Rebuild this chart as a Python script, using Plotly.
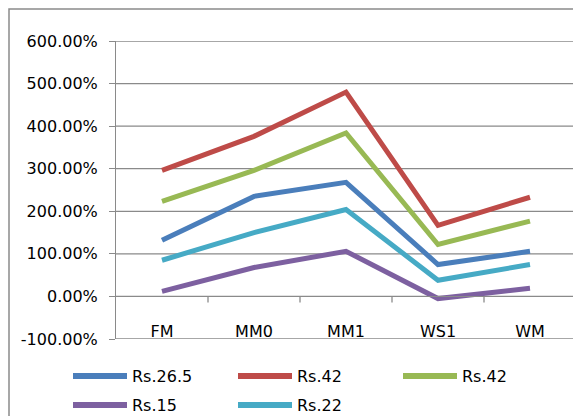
import plotly.graph_objects as go

# Category axis and series (values in percent)
categories = ["FM", "MM0", "MM1", "WS1", "WM"]
series_names = ["Rs.26.5", "Rs.42", "Rs.42", "Rs.15", "Rs.22"]
rs_26_5 = [132, 235, 268, 75, 106]
rs_42_a = [296, 376, 480, 167, 233]
rs_42_b = [223, 296, 384, 122, 177]
rs_15 = [12, 68, 106, -5, 19]
rs_22 = [85, 150, 204, 38, 75]
series_values = [rs_26_5, rs_42_a, rs_42_b, rs_15, rs_22]
colors = ["#4A7EBB", "#BE4B48", "#98B954", "#7D60A0", "#46AAC5"]
y_ticks = [-100, 0, 100, 200, 300, 400, 500, 600]
y_ticktext = [f"{v:.2f}%" for v in y_ticks]

W, H = 573, 416
L, T, R, B = 116, 41, 0, 77
plot_w = W - L - R
plot_h = H - T - B
GRID = "#8a8a8a"
FONT = "DejaVu Sans"


def px(x):
    return (x - L) / plot_w


def py(y):
    return (H - B - y) / plot_h


fig = go.Figure()
for name, vals, col in zip(series_names, series_values, colors):
    fig.add_trace(go.Scatter(
        x=categories, y=vals, name=name, mode="lines",
        line=dict(color=col, width=5), showlegend=False,
    ))

ymin, ymax = -100, 600
zero_pos = (0 - ymin) / (ymax - ymin)
cat_px = 92  # width of one category slot in pixels

fig.update_layout(
    width=W, height=H,
    margin=dict(l=L, r=R, t=T, b=B),
    paper_bgcolor="white", plot_bgcolor="white",
    font=dict(family=FONT, size=16, color="#000000"),
    xaxis=dict(
        type="category", range=[-0.5, plot_w / cat_px - 0.5],
        anchor="free", position=zero_pos,
        showline=True, linecolor=GRID, linewidth=1,
        ticks="", showgrid=False, ticklabelstandoff=20,
        tickfont=dict(family=FONT, size=16),
    ),
    yaxis=dict(
        range=[ymin, ymax], tickmode="array",
        tickvals=y_ticks, ticktext=y_ticktext,
        showline=True, linecolor=GRID, linewidth=1,
        ticks="outside", ticklen=6, tickcolor=GRID,
        showgrid=False, zeroline=False, ticklabelstandoff=8,
        tickfont=dict(family=FONT, size=16),
    ),
)

shapes = []
# horizontal gridlines at every y tick
for v in y_ticks:
    shapes.append(dict(type="line", xref="paper", yref="y", x0=0, x1=1, y0=v, y1=v,
                       line=dict(color=GRID, width=1.3), layer="below"))
# category boundary tick marks hanging below the zero line
for i in range(1, len(categories) + 1):
    shapes.append(dict(type="line", xref="x", yref="y", x0=i - 0.5, x1=i - 0.5,
                       ysizemode="pixel", yanchor=0, y0=0, y1=-6,
                       line=dict(color=GRID, width=1.3), layer="below"))
# outer chart frame
shapes.append(dict(type="rect", xref="paper", yref="paper",
                   x0=px(9), y0=py(9), x1=px(W + 20), y1=py(H + 20),
                   line=dict(color=GRID, width=1.5)))

# legend: three entries per row
annotations = []
for i, (name, col) in enumerate(zip(series_names, colors)):
    row, colidx = divmod(i, 3)
    x0 = 73 + colidx * 165
    yc = 376 + row * 29
    shapes.append(dict(type="line", xref="paper", yref="paper",
                       x0=px(x0), x1=px(x0 + 54), y0=py(yc), y1=py(yc),
                       line=dict(color=col, width=6)))
    annotations.append(dict(xref="paper", yref="paper", x=px(x0 + 57), y=py(yc),
                            text=name, showarrow=False, xanchor="left",
                            yanchor="middle", font=dict(family=FONT, size=16)))

fig.update_layout(shapes=shapes, annotations=annotations)
fig.write_html("out.html")
